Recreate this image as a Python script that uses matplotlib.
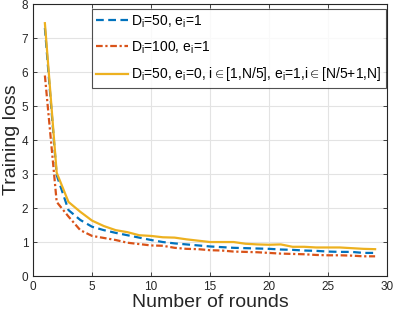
import matplotlib
matplotlib.use("Agg")
import matplotlib.pyplot as plt

plt.rcParams['font.family'] = ['Liberation Sans', 'DejaVu Sans']
plt.rcParams['mathtext.fontset'] = 'custom'
plt.rcParams['mathtext.rm'] = 'Liberation Sans'
plt.rcParams['mathtext.it'] = 'Liberation Sans:italic'

rounds = list(range(1, 30))
loss_d50 = [7.3, 2.97, 1.94, 1.65, 1.45, 1.35, 1.27, 1.2, 1.13, 1.06,
            1.0, 0.96, 0.93, 0.9, 0.87, 0.85, 0.83, 0.82, 0.81, 0.8,
            0.78, 0.77, 0.75, 0.74, 0.72, 0.71, 0.71, 0.68, 0.68]
loss_d100 = [5.9, 2.18, 1.75, 1.35, 1.18, 1.12, 1.06, 0.98, 0.94, 0.9,
             0.89, 0.83, 0.8, 0.79, 0.76, 0.75, 0.72, 0.71, 0.7, 0.68,
             0.66, 0.65, 0.64, 0.62, 0.61, 0.61, 0.6, 0.58, 0.58]
loss_mixed = [7.44, 3.04, 2.18, 1.89, 1.63, 1.47, 1.35, 1.29, 1.2, 1.18,
              1.14, 1.13, 1.08, 1.04, 1.0, 1.0, 1.0, 0.95, 0.93, 0.92,
              0.93, 0.86, 0.86, 0.84, 0.84, 0.84, 0.82, 0.8, 0.79]

labels = [r'D$_\mathrm{i}$=50, e$_\mathrm{i}$=1',
          r'D$_\mathrm{i}$=100, e$_\mathrm{i}$=1',
          r'D$_\mathrm{i}$=50, e$_\mathrm{i}$=0, i$\in$[1,N/5], e$_\mathrm{i}$=1,i$\in$[N/5+1,N]']

fig = plt.figure(figsize=(3.94, 3.18), dpi=100)
ax = fig.add_axes([0.084, 0.132, 0.898, 0.855])

ax.plot(rounds, loss_d50, color='#0072BD', lw=1.6, ls=(0, (3.5, 2)), label=labels[0])
ax.plot(rounds, loss_d100, color='#D95319', lw=1.6, ls=(0, (3, 1.2, 1, 1.2)), label=labels[1])
ax.plot(rounds, loss_mixed, color='#EDB120', lw=1.6, ls='-', label=labels[2])

ax.set_xlim(0, 30)
ax.set_ylim(0, 8)
ax.set_xticks([0, 5, 10, 15, 20, 25, 30])
ax.set_yticks(range(0, 9))
ax.grid(True, color='#e3e3e3', lw=0.8)
ax.set_axisbelow(True)
ax.tick_params(direction='in', top=True, right=True, labelsize=8.5, colors='#262626',
               length=3, width=0.6)
for s in ax.spines.values():
    s.set_color('#262626')
    s.set_linewidth(0.8)

ax.set_xlabel('Number of rounds', fontsize=14, color='#262626', labelpad=1)
ax.set_ylabel('Training loss', fontsize=14, color='#262626', labelpad=1)

leg = ax.legend(loc='upper right', bbox_to_anchor=(0.9975, 0.982), borderaxespad=0,
                fontsize=10, frameon=True, fancybox=False, edgecolor='#262626',
                handlelength=2.3, borderpad=0.3, labelspacing=0.7, handletextpad=0.25)
leg.get_frame().set_linewidth(0.8)

fig.savefig('out.png', dpi=100)
